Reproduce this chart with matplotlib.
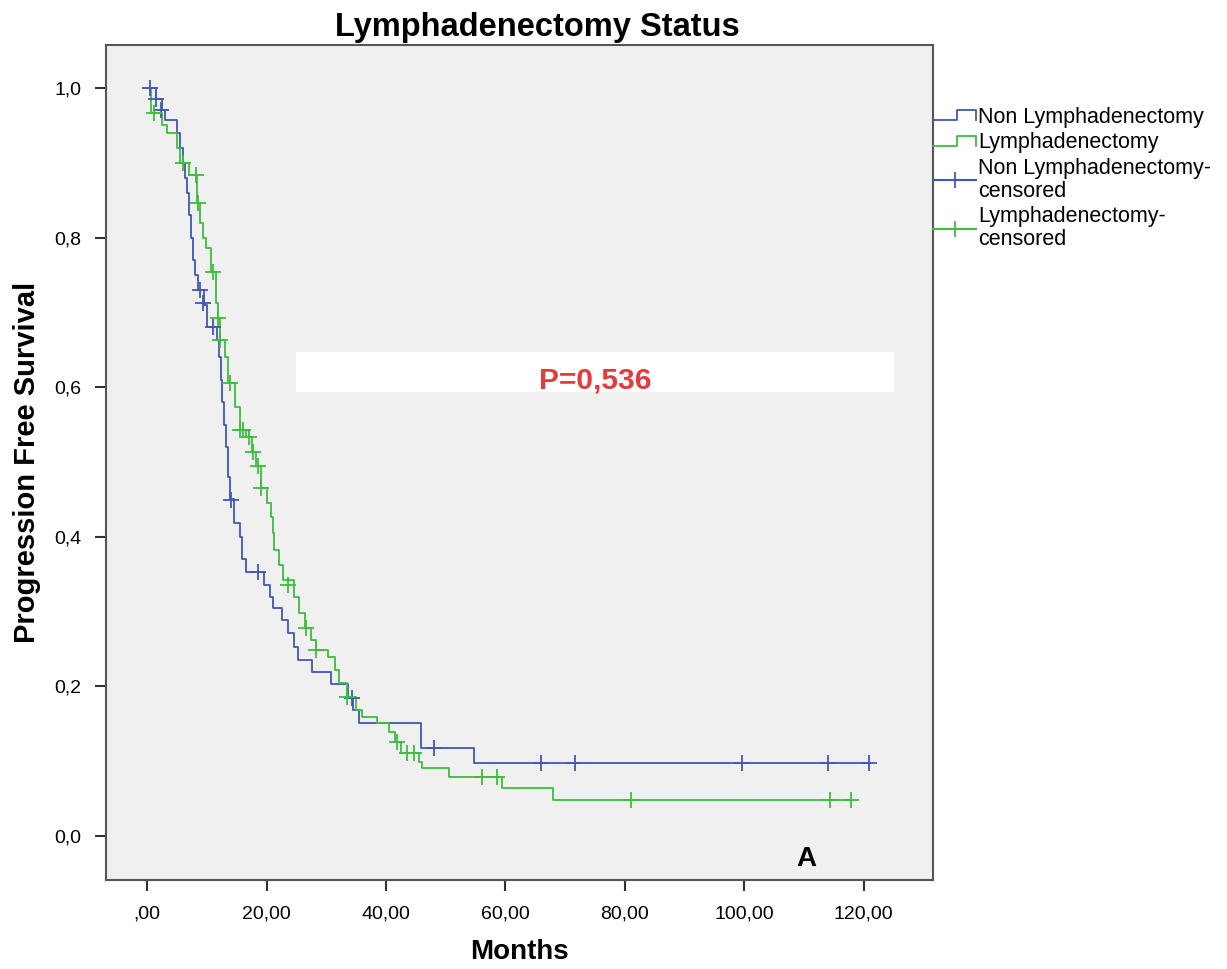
import matplotlib
matplotlib.use("Agg")
import matplotlib.pyplot as plt
import numpy as np
from matplotlib.lines import Line2D
from matplotlib.legend_handler import HandlerBase
from matplotlib.patches import Rectangle

# step data: event times (months) and survival after each step
non_times = [0, 1.5, 2.5, 3.0, 5.0, 5.5, 6.0, 6.3, 6.6, 7.0, 7.3, 7.6, 8.0, 8.5, 9.5, 10.0,
             11.7, 12.0, 12.3, 12.6, 12.9, 13.2, 13.5, 13.8, 14.6, 15.5, 15.9, 16.5, 19.5,
             20.5, 21.0, 22.5, 23.5, 24.5, 25.2, 27.6, 30.8, 33.7, 34.5, 35.5, 45.8, 54.7, 121.0]
non_surv = [1.0, 0.985, 0.97, 0.957, 0.94, 0.92, 0.90, 0.88, 0.86, 0.83, 0.80, 0.77, 0.75, 0.73,
            0.71, 0.68, 0.663, 0.64, 0.61, 0.58, 0.55, 0.52, 0.48, 0.45, 0.418, 0.40, 0.37, 0.353,
            0.336, 0.32, 0.305, 0.289, 0.271, 0.253, 0.235, 0.219, 0.203, 0.185, 0.168, 0.151,
            0.118, 0.097, 0.097]
non_cens_t = [0.4, 1.5, 2.3, 8.8, 9.3, 11.0, 14.0, 18.5, 34.3, 48.0, 66.0, 71.7, 99.6, 114.0, 120.8]
non_cens_s = [1.0, 0.985, 0.97, 0.73, 0.712, 0.68, 0.449, 0.353, 0.185, 0.118, 0.097, 0.097,
              0.097, 0.097, 0.097]

lym_times = [0, 0.7, 2.4, 3.3, 5.0, 5.5, 7.0, 8.3, 8.8, 9.3, 9.8, 10.6, 11.6, 11.9, 12.2, 13.0,
             13.5, 14.7, 15.5, 16.6, 17.5, 18.3, 19.0, 20.0, 20.8, 21.0, 21.2, 22.0, 22.7, 24.5,
             25.5, 26.5, 27.5, 28.3, 30.2, 31.4, 32.2, 33.5, 35.0, 36.0, 38.5, 40.5, 41.5, 42.5,
             45.5, 46.0, 50.5, 59.5, 68.0, 118.0]
lym_surv = [1.0, 0.966, 0.95, 0.94, 0.92, 0.90, 0.884, 0.846, 0.82, 0.80, 0.786, 0.754, 0.712,
            0.692, 0.663, 0.64, 0.605, 0.573, 0.543, 0.533, 0.513, 0.495, 0.465, 0.445, 0.427,
            0.405, 0.382, 0.362, 0.342, 0.32, 0.298, 0.278, 0.262, 0.249, 0.24, 0.222, 0.205,
            0.186, 0.168, 0.159, 0.151, 0.139, 0.126, 0.111, 0.099, 0.091, 0.079, 0.064, 0.048,
            0.048]
lym_cens_t = [1.2, 6.0, 8.1, 8.5, 11.0, 11.8, 12.2, 13.8, 15.5, 16.0, 17.0, 17.7, 18.5, 19.1,
              23.5, 26.6, 28.3, 33.5, 41.8, 43.5, 44.7, 56.0, 58.5, 81.0, 114.3, 117.8]
lym_cens_s = [0.966, 0.90, 0.884, 0.846, 0.754, 0.692, 0.663, 0.605, 0.543, 0.543, 0.533, 0.513,
              0.495, 0.465, 0.336, 0.278, 0.249, 0.186, 0.126, 0.111, 0.111, 0.079, 0.079, 0.048,
              0.048, 0.048]

x_ticks = [0, 20, 40, 60, 80, 100, 120]
x_labels = [",00", "20,00", "40,00", "60,00", "80,00", "100,00", "120,00"]
y_ticks = [0.0, 0.2, 0.4, 0.6, 0.8, 1.0]
y_labels = ["0,0", "0,2", "0,4", "0,6", "0,8", "1,0"]

blue = "#4257b8"
green = "#3cbf3c"

plt.rcParams['font.family'] = ["Liberation Sans", "DejaVu Sans"]


class StepHandler(HandlerBase):
    def create_artists(self, legend, orig_handle, xdescent, ydescent, width, height, fontsize, trans):
        xs = np.array([0, 0.55, 0.55, 1.0, 1.0]) * width - xdescent
        ys = np.array([0.15, 0.15, 0.85, 0.85, 0.15]) * height - ydescent
        ln = Line2D(xs, ys, color=orig_handle.get_color(), lw=1.3, transform=trans)
        return [ln]


fig = plt.figure(figsize=(12.27, 9.69), dpi=100)
ax = fig.add_axes([0.0864, 0.0918, 0.674, 0.8618])
ax.set_facecolor("#f0f0f0")

ax.step(non_times, non_surv, where="post", color=blue, lw=1.3)
ax.step(lym_times, lym_surv, where="post", color=green, lw=1.3)
ax.plot(non_cens_t, non_cens_s, ls="none", marker="+", ms=12, mew=1.3, color=blue)
ax.plot(lym_cens_t, lym_cens_s, ls="none", marker="+", ms=12, mew=1.3, color=green)

ax.set_xlim(-6.9, 131.6)
ax.set_ylim(-0.0588, 1.0575)
ax.set_xticks(x_ticks)
ax.set_xticklabels(x_labels, fontsize=14)
ax.set_yticks(y_ticks)
ax.set_yticklabels(y_labels, fontsize=14)
ax.tick_params(direction="out", length=8, width=1.5, color="#333333", pad=10)
for sp in ax.spines.values():
    sp.set_color("#555555")
    sp.set_linewidth(1.5)

# white box with p value
ax.add_patch(Rectangle((25.0, 0.594), 100.0, 0.053, facecolor="white", edgecolor="none", zorder=1))
ax.text(75, 0.609, "P=0,536", color="#e8383d", fontsize=21.5, fontweight="bold",
        ha="center", va="center", zorder=3)
ax.text(110.3, -0.03, "A", fontsize=20, fontweight="bold", ha="center", va="center")

fig.text(0.4377, 0.972, "Lymphadenectomy Status", fontsize=23.5, fontweight="bold",
         ha="center", va="center")
ax.set_xlabel("Months", fontsize=20, fontweight="bold", labelpad=12)
ax.set_ylabel("Progression Free Survival", fontsize=21, fontweight="bold", labelpad=9)

handles = [Line2D([], [], color=blue), Line2D([], [], color=green),
           Line2D([], [], color=blue, marker="+", ms=12, mew=1.3),
           Line2D([], [], color=green, marker="+", ms=12, mew=1.3)]
labels = ["Non Lymphadenectomy", "Lymphadenectomy",
          "Non Lymphadenectomy-\ncensored", "Lymphadenectomy-\ncensored"]
leg = fig.legend(handles, labels, loc="upper left", bbox_to_anchor=(0.7604, 0.890),
                 frameon=False, fontsize=15.5, handlelength=2.0, handletextpad=0.1,
                 borderpad=0, borderaxespad=0, labelspacing=0.22,
                 handler_map={handles[0]: StepHandler(), handles[1]: StepHandler()})
for t in leg.get_texts():
    t.set_linespacing(1.1)

fig.savefig("out.png", dpi=100, facecolor="white")
